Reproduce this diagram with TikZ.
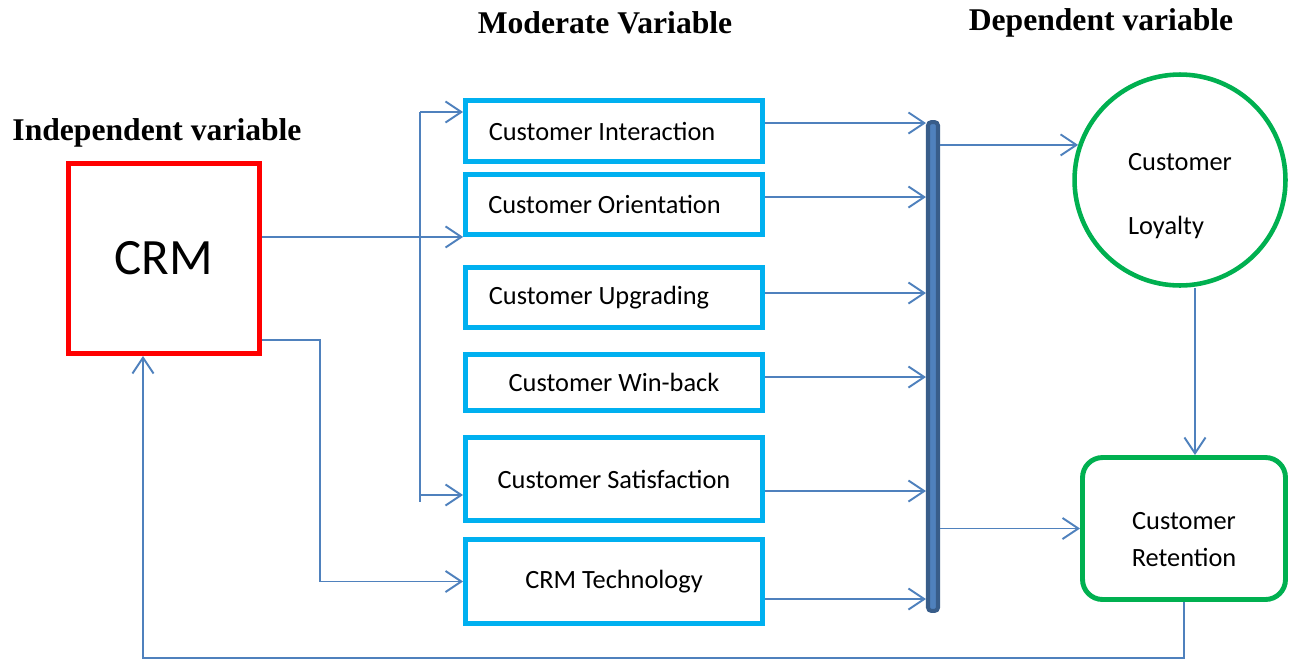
\documentclass[tikz,border=0pt]{standalone}
\usepackage{fontspec}
\setmainfont{Liberation Serif}
\setsansfont{Carlito}
\usetikzlibrary{positioning,arrows.meta,shapes.geometric}
\definecolor{crmred}{HTML}{FF0000}
\definecolor{modcyan}{HTML}{00B0F0}
\definecolor{depgreen}{HTML}{00B050}
\definecolor{linkblue}{HTML}{4F81BD}
\definecolor{bardark}{HTML}{385D8A}
\tikzset{
  indbox/.style={rectangle,draw=crmred,line width=2.8pt,minimum width=3.82cm,minimum height=3.8cm,
    font=\sffamily\fontsize{29}{34}\selectfont},
  modbox/.style={rectangle,draw=modcyan,line width=2.8pt,minimum width=5.94cm,inner sep=0pt,
    font=\sffamily\fontsize{15}{18}\selectfont},
  loybox/.style={circle,draw=depgreen,line width=2.6pt,minimum size=4.22cm,inner sep=0pt,align=left,
    font=\sffamily\fontsize{15}{18}\selectfont},
  retbox/.style={rectangle,rounded corners=0.4cm,draw=depgreen,line width=2.8pt,minimum width=4.06cm,
    minimum height=2.84cm,align=center,font=\sffamily\fontsize{15}{21}\selectfont},
  barbox/.style={rectangle,rounded corners=2pt,fill=linkblue,draw=bardark,line width=2.3pt,inner sep=0pt,
    minimum width=0.2cm,minimum height=9.78cm},
  title/.style={font=\rmfamily\bfseries\fontsize{18}{22}\selectfont},
  link/.style={draw=linkblue,line width=1.1pt},
  arr/.style={link,-{Straight Barb[length=9pt,width=12pt]}},
}

\begin{document}
\begin{tikzpicture}[x=0.02cm,y=-0.02cm]
  \useasboundingbox (0,0) rectangle (1290,660);
  % headings
  \node[title] (tind) at (157,133) {Independent variable};
  \node[title] (tmod) at (605,23) {Moderate Variable};
  \node[title] (tdep) at (1101,23) {Dependent variable};
  % independent variable
  \node[indbox] (crm) at (164,258.5) {CRM};
  % moderate variables
  \node[modbox,minimum height=1.22cm] (inter) at (614,131) {Customer Interaction\hspace*{0.48cm}};
  \node[modbox,minimum height=1.2cm] (orient) at (614,204.5) {Customer Orientation\hspace*{0.38cm}};
  \node[modbox,minimum height=1.2cm] (upgr) at (614,297.5) {Customer Upgrading\hspace*{0.6cm}};
  \node[modbox,minimum height=1.12cm] (winb) at (614,382.5) {Customer Win-back};
  \node[modbox,minimum height=1.66cm] (satis) at (614,479) {Customer Satisfaction};
  \node[modbox,minimum height=1.68cm] (tech) at (614,581.5) {CRM Technology};
  \node[barbox] (bar) at (933,366.5) {};
  % dependent variables
  \node[loybox] (loyal) at (1180,180) {\rule{0pt}{28pt}Customer\\[18pt]Loyalty};
  \node[retbox] (ret) at (1184,528.5) {\rule{0pt}{22pt}Customer\\Retention};
  % CRM to the moderate boxes
  \draw[arr] (crm.east |- orient.south) -- (orient.south west);
  \coordinate (forktop) at (420,112);
  \coordinate (forkbot) at (420,502);
  \coordinate (forksat) at (420,495);
  \draw[link] (forktop) -- (forkbot);
  \draw[arr] (forktop) -- (forktop -| inter.west);
  \draw[arr] (forksat) -- (forksat -| satis.west);
  \coordinate (techturn) at (320,340);
  \draw[arr] (crm.east |- techturn) -- (techturn) |- (tech.west);
  % moderate boxes into the bar
  \draw[arr] ([yshift=0.16cm]inter.east) -- ([yshift=0.16cm]inter.east -| bar.west);
  \draw[arr] ([yshift=0.15cm]orient.east) -- ([yshift=0.15cm]orient.east -| bar.west);
  \draw[arr] ([yshift=0.09cm]upgr.east) -- ([yshift=0.09cm]upgr.east -| bar.west);
  \draw[arr] ([yshift=0.11cm]winb.east) -- ([yshift=0.11cm]winb.east -| bar.west);
  \draw[arr] ([yshift=-0.24cm]satis.east) -- ([yshift=-0.24cm]satis.east -| bar.west);
  \draw[arr] ([yshift=-0.35cm]tech.east) -- ([yshift=-0.35cm]tech.east -| bar.west);
  % bar to the dependent variables
  \draw[arr] (bar.east |- loyal.161) -- (loyal.161);
  \draw[arr] (bar.east |- ret.west) -- (ret.west);
  \draw[arr] ([xshift=0.3cm]loyal.south) -- ([xshift=0.3cm]loyal.south |- ret.north);
  % feedback loop
  \coordinate (loopleft) at (143,658);
  \draw[arr] (ret.south) -- (ret.south |- loopleft) -- (loopleft) -- (loopleft |- crm.south);
\end{tikzpicture}
\end{document}
